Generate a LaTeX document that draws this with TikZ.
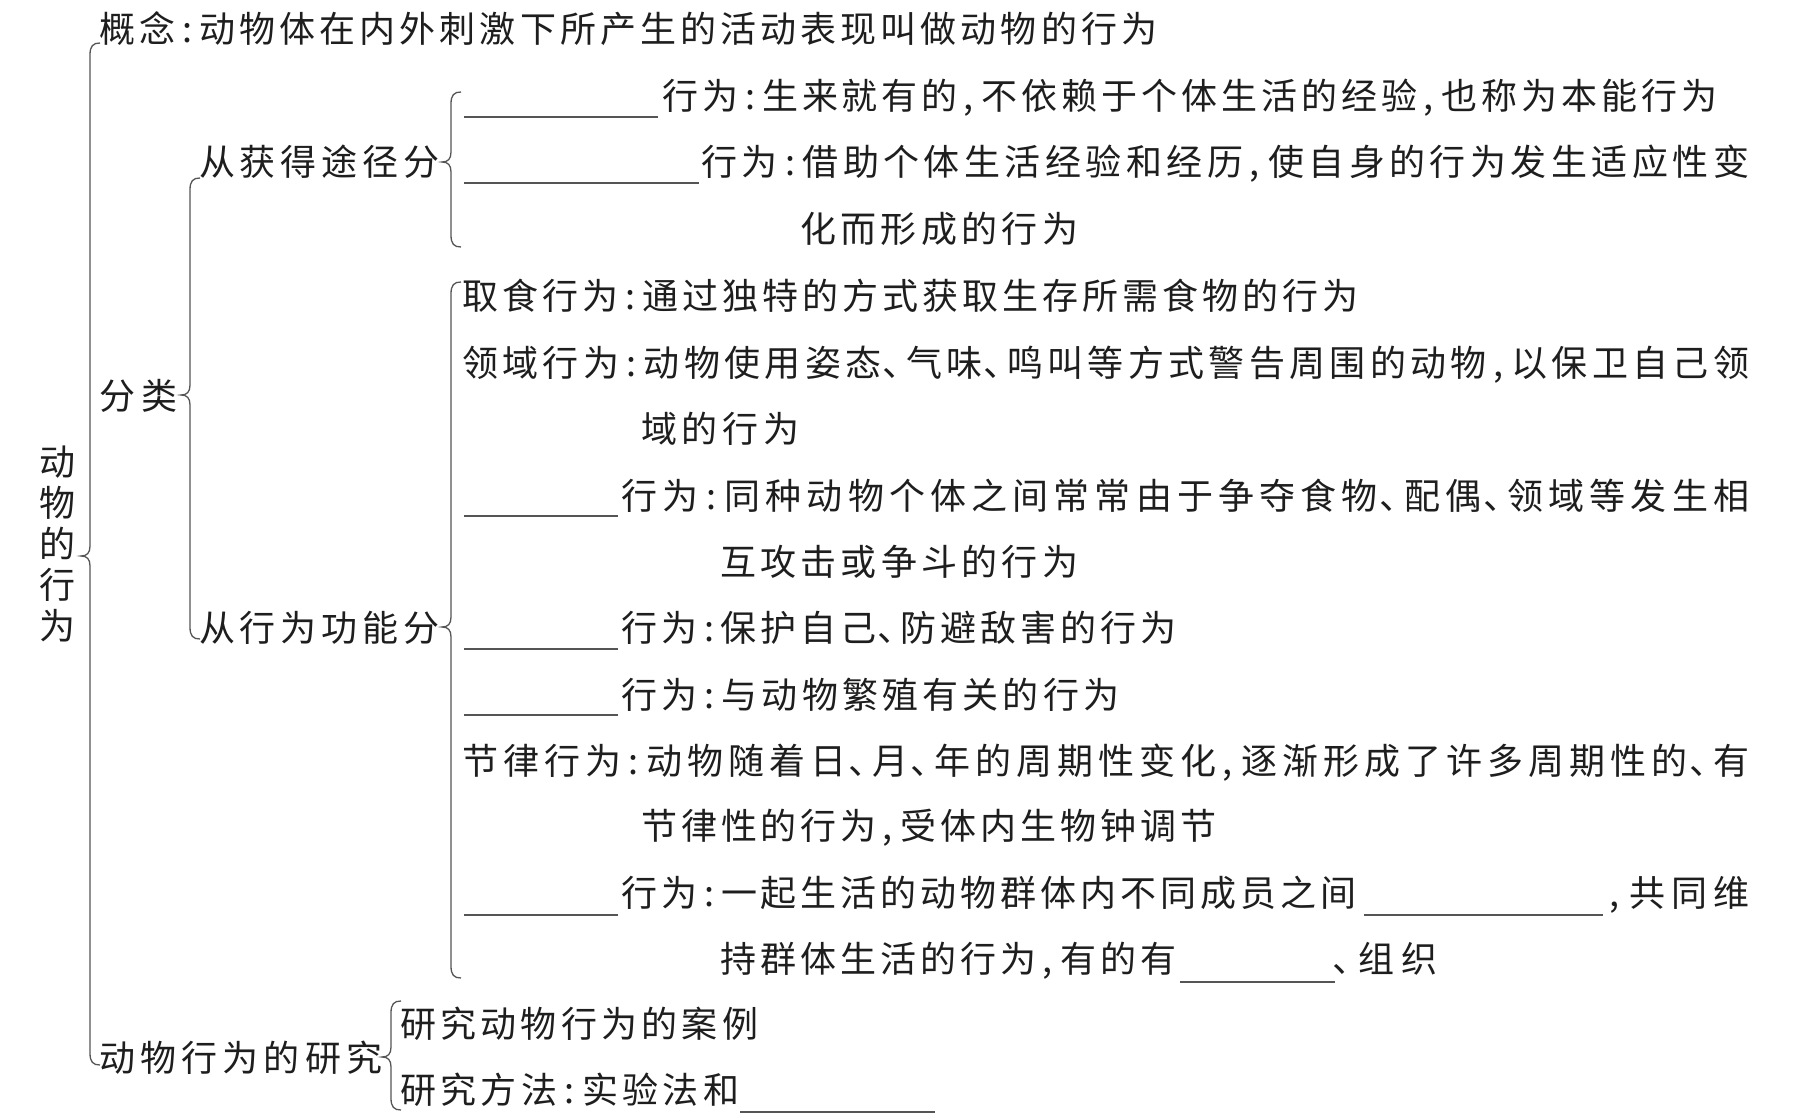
\documentclass[tikz,border=0pt]{standalone}
\usepackage{fontspec}
\newfontfamily\cjk{Noto Sans CJK SC}
\definecolor{ink}{HTML}{1E1E1E}
\definecolor{rule}{HTML}{555555}
\def\jstloop#1{\ifx#1\relax\else#1\expandafter\jstnext\fi}
\def\jstnext#1{\ifx#1\relax\else\hfil#1\expandafter\jstnext\fi}
\newcommand\pcolon{\hbox to 16pt{\hss:\hss}}
\newcommand\pcomma{\hbox to 16pt{\kern2pt,\hss}}
\newcommand\pdun{\hbox to 16pt{\kern-3pt、\hss}}
\newcommand\tline[5]{\node[txt] (#1) at (#2-2,#3) {\hbox to \dimexpr#4pt-#2pt+4pt\relax{\jstloop#5\relax}};}
\newcommand\brc[4]{\draw[bracestyle] (#1+10,#2) .. controls (#1+3,#2) and (#1,#2+3) .. (#1,#2+12) -- (#1,#3-10) .. controls (#1,#3-3) and (#1-3,#3) .. (#1-9,#3) .. controls (#1-3,#3) and (#1,#3+3) .. (#1,#3+10) -- (#1,#4-12) .. controls (#1,#4-3) and (#1+3,#4) .. (#1+10,#4);}
\begin{document}
\begin{tikzpicture}[x=1pt,y=-1pt,
  txt/.style={anchor=base west,inner sep=0pt,text=ink,font=\cjk\fontsize{36pt}{41pt}\selectfont},
  bracestyle/.style={draw=rule,line width=1.3pt},
  blank/.style={draw=rule,line width=1.8pt}]
\useasboundingbox[fill=white] (0,0) rectangle (1805,1115);
% vertical root
\node[txt,anchor=north,align=center] (root) at (57,446) {动\\物\\的\\行\\为};
% level 1
\tline{concept}{101}{43}{1155}{概念\pcolon 动物体在内外刺激下所产生的活动表现叫做动物的行为}
\tline{cls}{101}{409}{175}{分类}
\tline{study}{101}{1071}{380}{动物行为的研究}
% level 2
\tline{acq}{201}{176}{437}{从获得途径分}
\tline{fun}{201}{641}{437}{从行为功能分}
% acquisition
\tline{a1}{664}{110}{1715}{行为\pcolon 生来就有的\pcomma 不依赖于个体生活的经验\pcomma 也称为本能行为}
\tline{a2}{703}{176}{1747}{行为\pcolon 借助个体生活经验和经历\pcomma 使自身的行为发生适应性变}
\tline{a2b}{802}{243}{1076}{化而形成的行为}
% function
\tline{f1}{464}{310}{1356}{取食行为\pcolon 通过独特的方式获取生存所需食物的行为}
\tline{f2}{464}{376}{1747}{领域行为\pcolon 动物使用姿态\pdun 气味\pdun 鸣叫等方式警告周围的动物\pcomma 以保卫自己领}
\tline{f2b}{643}{442}{797}{域的行为}
\tline{f3}{623}{509}{1747}{行为\pcolon 同种动物个体之间常常由于争夺食物\pdun 配偶\pdun 领域等发生相}
\tline{f3b}{722}{575}{1076}{互攻击或争斗的行为}
\tline{f4}{623}{641}{1174}{行为\pcolon 保护自己\pdun 防避敌害的行为}
\tline{f5}{623}{708}{1117}{行为\pcolon 与动物繁殖有关的行为}
\tline{f6}{464}{774}{1747}{节律行为\pcolon 动物随着日\pdun 月\pdun 年的周期性变化\pcomma 逐渐形成了许多周期性的\pdun 有}
\tline{f6b}{643}{839}{1214}{节律性的行为\pcomma 受体内生物钟调节}
\tline{f7}{623}{906}{1354}{行为\pcolon 一起生活的动物群体内不同成员之间}
\tline{f7c}{1609}{906}{1747}{\pcomma 共同维}
\tline{f7b}{722}{972}{1174}{持群体生活的行为\pcomma 有的有}
\tline{f7d}{1337}{972}{1435}{\pdun 组织}
% study
\tline{s1}{402}{1037}{756}{研究动物行为的案例}
\tline{s2}{402}{1103}{737}{研究方法\pcolon 实验法和}
% braces
\brc{90}{43}{556}{1065}
\brc{190}{178}{395}{639}
\brc{451}{92}{162}{247}
\brc{451}{282}{627}{978}
\brc{391}{1001}{1057}{1110}
% blanks
\draw[blank] (464,117) -- (658,117);
\draw[blank] (464,183) -- (699,183);
\draw[blank] (464,516) -- (618,516);
\draw[blank] (464,649) -- (618,649);
\draw[blank] (464,715) -- (618,715);
\draw[blank] (464,915) -- (618,915);
\draw[blank] (1364,915) -- (1603,915);
\draw[blank] (1180,982) -- (1335,982);
\draw[blank] (740,1112) -- (935,1112);
\end{tikzpicture}
\end{document}
